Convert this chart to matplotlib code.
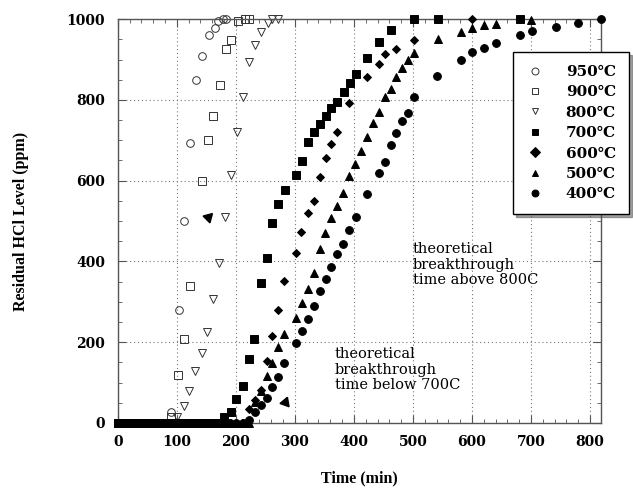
import matplotlib
matplotlib.use("Agg")
import matplotlib.pyplot as plt
from matplotlib.ticker import MultipleLocator

plt.rcParams['font.family'] = ['DejaVu Serif', 'DejaVu Sans']

# ---- data (time in min, residual HCl in ppm) ----
t950 = [0, 10, 20, 30, 40, 50, 60, 70, 80, 91, 103, 113, 123, 133, 143, 154, 164, 170, 178, 184]
v950 = [0, 0, 0, 0, 0, 0, 0, 0, 0, 26, 281, 501, 694, 849, 908, 960, 978, 996, 1000, 1000]

t900 = [0, 10, 20, 30, 40, 50, 60, 70, 81, 91, 102, 112, 122, 143, 153, 161, 173, 183, 192, 204, 215, 223]
v900 = [0, 0, 0, 0, 0, 0, 0, 0, 0, 16, 119, 208, 339, 599, 700, 760, 837, 927, 948, 996, 1000, 1000]

t800 = [0, 10, 20, 30, 40, 50, 60, 70, 80, 91, 101, 112, 121, 131, 142, 152, 162, 171, 182, 192,
        202, 212, 223, 232, 243, 254, 262, 271]
v800 = [0, 0, 0, 0, 0, 0, 0, 0, 0, 0, 16, 42, 80, 129, 174, 226, 307, 397, 509, 614,
        721, 808, 894, 935, 969, 991, 1000, 1000]

t700 = [0, 10, 20, 30, 40, 50, 60, 70, 80, 90, 100, 110, 120, 130, 140, 150, 160, 170, 180, 191,
        201, 212, 222, 231, 243, 253, 262, 272, 283, 302, 312, 323, 332, 342, 352, 362, 372, 383,
        393, 403, 422, 442, 462, 501, 542, 681]
v700 = [0, 0, 0, 0, 0, 0, 0, 0, 0, 0, 0, 0, 0, 0, 0, 0, 0, 0, 14, 28,
        59, 92, 158, 207, 347, 408, 496, 542, 577, 614, 648, 696, 721, 740, 760, 781, 795, 820,
        842, 864, 903, 944, 973, 1000, 1000, 1000]

t600 = [0, 10, 20, 30, 40, 50, 60, 70, 80, 90, 100, 110, 120, 130, 140, 150, 160, 170, 180, 190,
        200, 212, 222, 232, 242, 252, 262, 271, 281, 302, 311, 322, 332, 342, 352, 362, 372, 392,
        422, 442, 452, 472, 501, 600]
v600 = [0, 0, 0, 0, 0, 0, 0, 0, 0, 0, 0, 0, 0, 0, 0, 0, 0, 0, 0, 0,
        0, 0, 35, 57, 82, 154, 215, 280, 352, 421, 474, 520, 550, 610, 655, 691, 721, 793,
        857, 890, 913, 925, 948, 1000]

t500 = [0, 10, 20, 30, 40, 50, 60, 70, 80, 90, 100, 110, 120, 130, 140, 150, 160, 170, 180, 190,
        200, 210, 222, 232, 242, 252, 262, 272, 282, 302, 312, 323, 332, 342, 351, 362, 371, 382,
        391, 401, 412, 422, 432, 442, 452, 462, 472, 482, 491, 501, 542, 581, 600, 621, 640, 700]
v500 = [0, 0, 0, 0, 0, 0, 0, 0, 0, 0, 0, 0, 0, 0, 0, 0, 0, 0, 0, 0,
        0, 0, 0, 53, 80, 117, 149, 187, 220, 259, 298, 332, 372, 432, 470, 507, 537, 569,
        611, 641, 674, 707, 742, 771, 808, 826, 857, 878, 898, 917, 950, 969, 979, 985, 989, 999]

t400 = [0, 10, 20, 30, 40, 50, 60, 70, 80, 90, 100, 110, 120, 130, 140, 150, 160, 170, 180, 190,
        200, 212, 222, 232, 242, 252, 262, 272, 282, 302, 312, 323, 332, 342, 352, 362, 371, 382,
        392, 403, 422, 442, 452, 462, 472, 482, 491, 501, 541, 581, 600, 621, 640, 681, 701, 742,
        779, 819]
v400 = [0, 0, 0, 0, 0, 0, 0, 0, 0, 0, 0, 0, 0, 0, 0, 0, 0, 0, 0, 0,
        0, 0, 7, 28, 45, 63, 90, 115, 148, 199, 228, 257, 290, 327, 356, 387, 418, 442,
        478, 511, 567, 618, 647, 688, 717, 748, 767, 808, 859, 900, 919, 929, 941, 960, 971, 981,
        991, 1000]

labels = ["950℃", "900℃", "800℃", "700℃", "600℃", "500℃", "400℃"]

# arrowheads of the (faded) annotation arrows
arrow_x = [153, 284]
arrow_y = [510, 52]

note_above = "theoretical\nbreakthrough\ntime above 800C"
note_below = "theoretical\nbreakthrough\ntime below 700C"

xticks = [0, 100, 200, 300, 400, 500, 600, 700, 800]
yticks = [0, 200, 400, 600, 800, 1000]

# ---- figure ----
fig = plt.figure(figsize=(6.33, 4.91), dpi=100)
ax = fig.add_axes([0.186, 0.1385, 0.763, 0.8225])

series = [
    (t950, v950, 'o', 'none'),
    (t900, v900, 's', 'none'),
    (t800, v800, 'v', 'none'),
    (t700, v700, 's', 'black'),
    (t600, v600, 'D', 'black'),
    (t500, v500, '^', 'black'),
    (t400, v400, 'o', 'black'),
]
sizes = [5.5, 5.5, 6, 5.2, 4.2, 5.5, 5.6]
handles = []
for (t, v, m, fc), lab, ms in zip(series, labels, sizes):
    ec = '#333333' if fc == 'none' else 'black'
    h, = ax.plot(t, v, linestyle='none', marker=m, markersize=ms,
                 markerfacecolor=fc, markeredgecolor=ec, markeredgewidth=0.7,
                 label=lab, zorder=3 if fc != 'none' else 2, clip_on=False)
    handles.append(h)

ax.plot(arrow_x[:1], arrow_y[:1], linestyle='none', marker=(3, 0, 195), markersize=8,
        color='black', zorder=4)
ax.plot(arrow_x[1:], arrow_y[1:], linestyle='none', marker=(3, 0, -20), markersize=8,
        color='black', zorder=4)

ax.text(500, 448, note_above, fontsize=10.5, va='top', ha='left', linespacing=1.15)
ax.text(368, 188, note_below, fontsize=10.5, va='top', ha='left', linespacing=1.15)

ax.set_xlim(0, 818)
ax.set_ylim(0, 1000)
ax.set_xticks(xticks)
ax.set_yticks(yticks)
ax.xaxis.set_minor_locator(MultipleLocator(20))
ax.yaxis.set_minor_locator(MultipleLocator(50))
ax.tick_params(which='both', direction='in', top=True, right=True, colors='#555555',
               labelcolor='black')
ax.tick_params(which='major', length=6, labelsize=10)
ax.tick_params(which='minor', length=3)
for lab in ax.get_xticklabels() + ax.get_yticklabels():
    lab.set_fontweight('bold')
ax.tick_params(axis='x', pad=9)
ax.tick_params(axis='y', pad=9)

ax.grid(True, which='major', linestyle=(0, (1, 2.5)), color='#777777', linewidth=0.8)
for s in ax.spines.values():
    s.set_color('#555555')
    s.set_linewidth(1.0)

ax.set_xlabel("Time (min)", fontsize=11.5, fontweight='bold', labelpad=15,
              family=['Liberation Serif', 'DejaVu Serif'])
ax.set_ylabel("Residual HCl Level (ppm)", fontsize=11.5, fontweight='bold', labelpad=27,
              family=['Liberation Serif', 'DejaVu Serif'])

leg = ax.legend(handles=handles, loc='upper left', bbox_to_anchor=(513 / 633, 1 - 52 / 491),
                bbox_transform=fig.transFigure, frameon=True, fancybox=False, shadow=True,
                prop={'weight': 'bold', 'size': 11}, labelspacing=0.42, handletextpad=1.4,
                handlelength=1.2, borderpad=0.85, borderaxespad=0)
leg.get_frame().set_edgecolor('black')
leg.get_frame().set_linewidth(1.0)
for lh in leg.legend_handles:
    lh.set_markersize(5)
    lh.set_clip_on(True)

fig.savefig("out.png", dpi=100)
